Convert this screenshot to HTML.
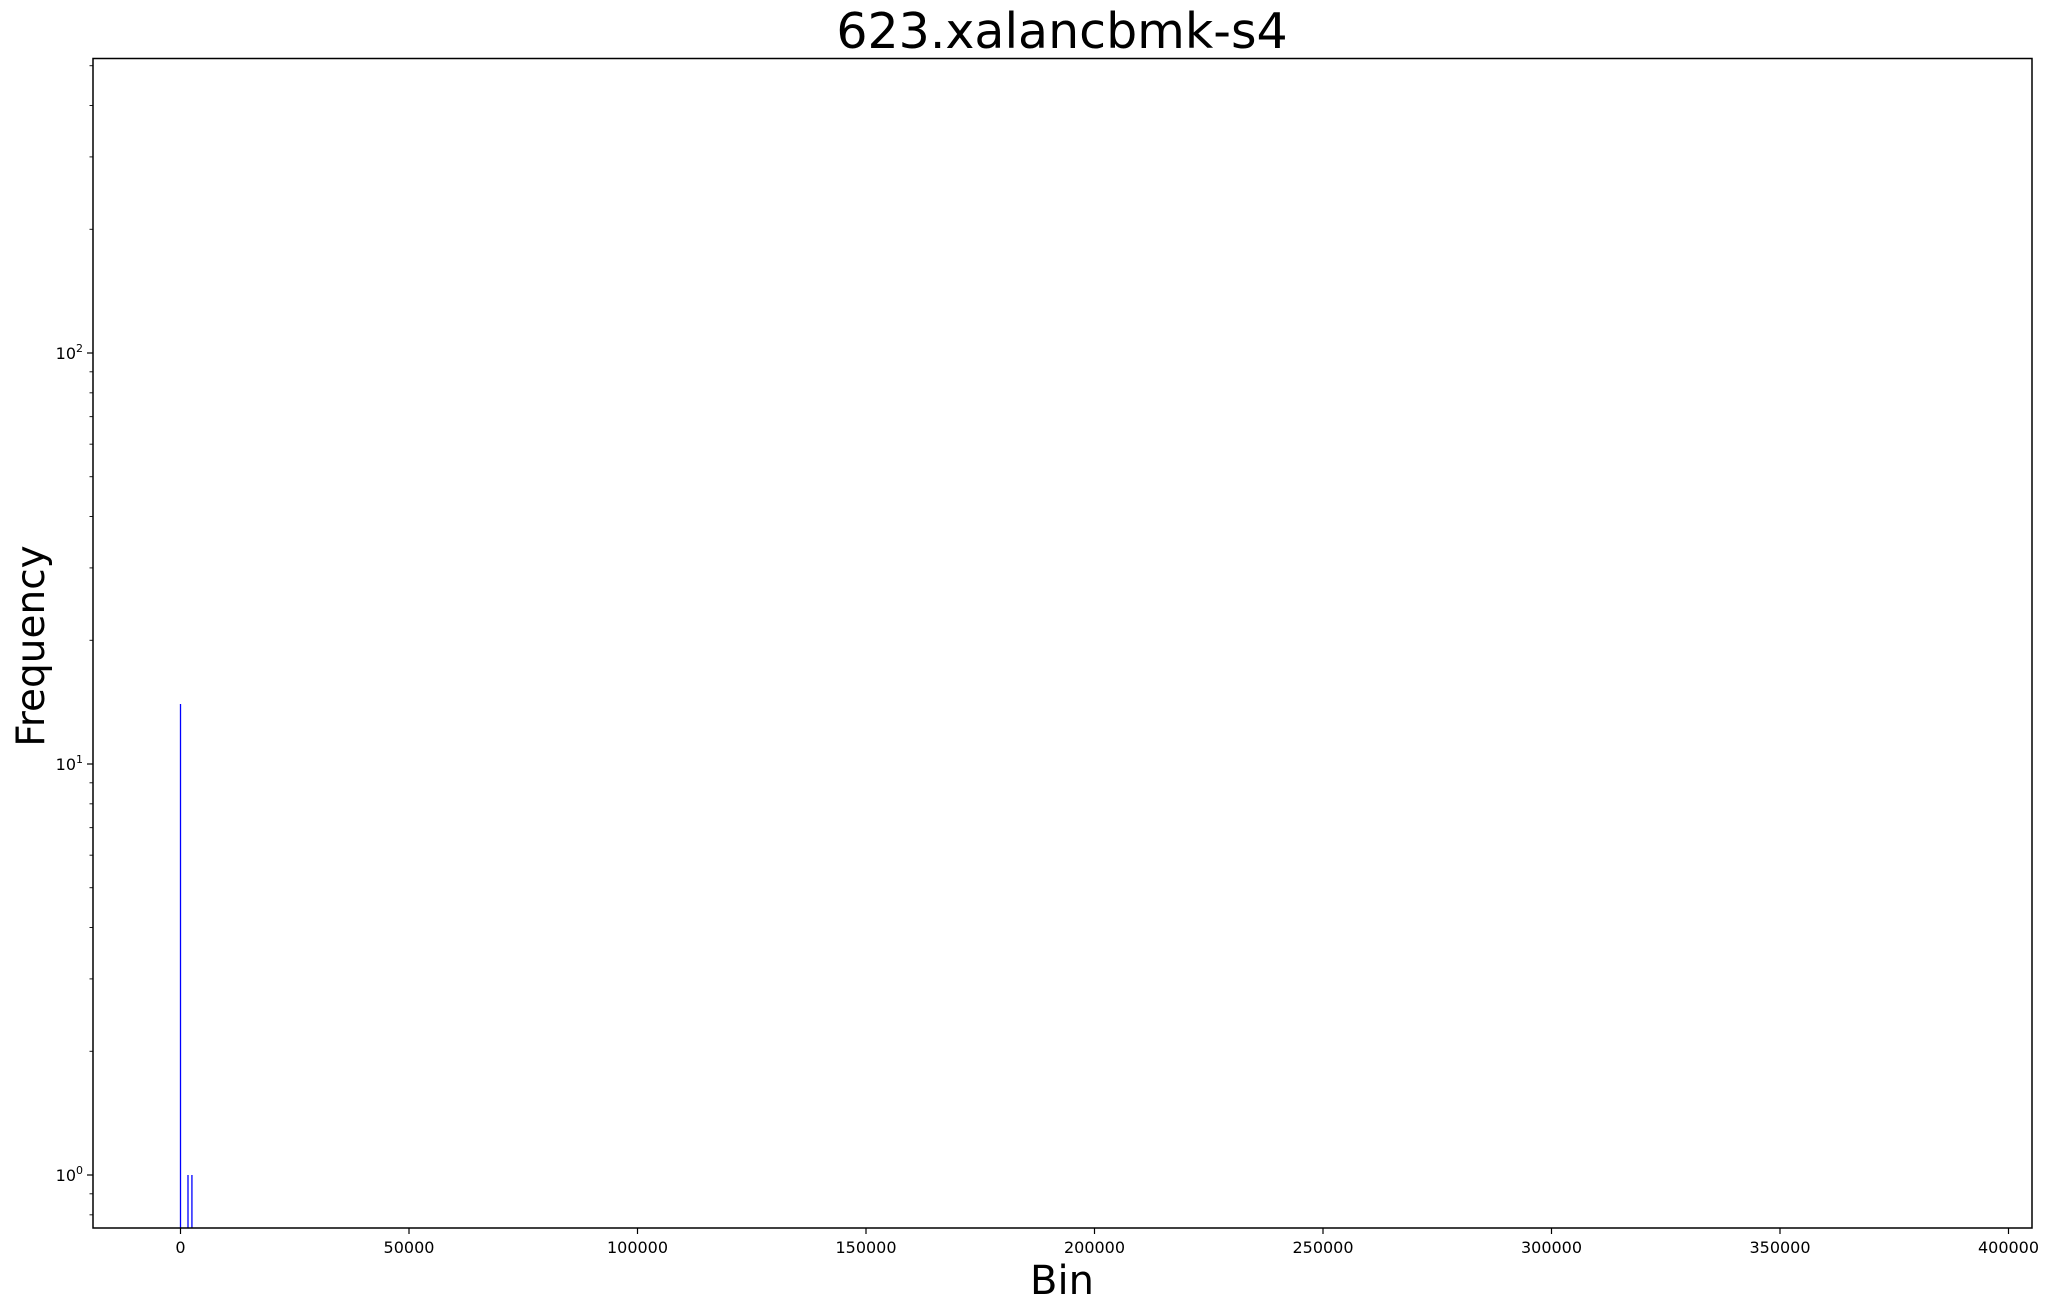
<!DOCTYPE html>
<html><head><meta charset="utf-8"><style>
body{margin:0;background:#fff;}
svg{display:block;font-family:"DejaVu Sans","Liberation Sans",sans-serif;}
</style></head><body>
<svg id="chart" width="2049" height="1309" viewBox="0 0 2049 1309">
<text x="1062" y="48" font-size="49" text-anchor="middle">623.xalancbmk-s4</text>
<text x="1062" y="1294" font-size="40" text-anchor="middle">Bin</text>
<text transform="translate(44,646) rotate(-90)" font-size="39" text-anchor="middle">Frequency</text>
<g id="bars"></g>
<g id="axes"></g>
<rect x="93" y="58.5" width="1939" height="1169.5" fill="none" stroke="#000" stroke-width="1.5"/>
</svg>
<script>
const binStarts = [0, 1640, 2500];
const frequencies = [14, 1, 1];
const xTicks = [0, 50000, 100000, 150000, 200000, 250000, 300000, 350000, 400000];
const xTickLabels = ["0","50000","100000","150000","200000","250000","300000","350000","400000"];
const yDecades = [0, 1, 2];
const yTickLabels = ["10","10","10"];

const SVGNS = "http://www.w3.org/2000/svg";
const plotX0 = 180.5, pxPer = 228.5/50000;
const yDec0 = 1175, pxDec = 411;
const plotTop = 58.5, plotBottom = 1228, plotLeft = 93;
function xs(v){return plotX0 + v*pxPer;}
function ys(v){return yDec0 - Math.log10(v)*pxDec;}
function mk(tag, attrs, parent){const e=document.createElementNS(SVGNS,tag);for(const k in attrs)e.setAttribute(k,attrs[k]);parent.appendChild(e);return e;}

const barsG = document.getElementById('bars');
binStarts.forEach((b,i)=>{
  const x = xs(b);
  const l = mk('line',{x1:x,x2:x,y1:plotBottom,y2:ys(frequencies[i]),stroke:'#0000ff','stroke-width':1.3},barsG);
  
  
});

const axesG = document.getElementById('axes');
xTicks.forEach((t,i)=>{
  const x = xs(t);
  const tk = mk('line',{x1:x,x2:x,y1:plotBottom,y2:plotBottom+6,stroke:'#000','stroke-width':1.2},axesG);
  
  
  const tx = mk('text',{x:x,y:plotBottom+25,'font-size':16,'text-anchor':'middle'},axesG);
  tx.textContent = xTickLabels[i];
  
  
});
yDecades.forEach((d,i)=>{
  const y = ys(Math.pow(10,d));
  const tk = mk('line',{x1:plotLeft-6,x2:plotLeft,y1:y,y2:y,stroke:'#000','stroke-width':1.2},axesG);
  
  
  const tx = mk('text',{x:plotLeft-10,y:y+6,'font-size':16,'text-anchor':'end'},axesG);
  tx.textContent = yTickLabels[i];
  const sup = mk('tspan',{dy:-7,'font-size':11},tx);
  sup.textContent = String(d);
  
  
});
for(let d=-1; d<=2; d++){
  for(let m=2;m<=9;m++){
    const v = m*Math.pow(10,d);
    const y = ys(v);
    if(y<plotTop || y>plotBottom) continue;
    const tk = mk('line',{x1:plotLeft-3.5,x2:plotLeft,y1:y,y2:y,stroke:'#000','stroke-width':0.9},axesG);
    
    
  }
}
</script>
</body></html>
